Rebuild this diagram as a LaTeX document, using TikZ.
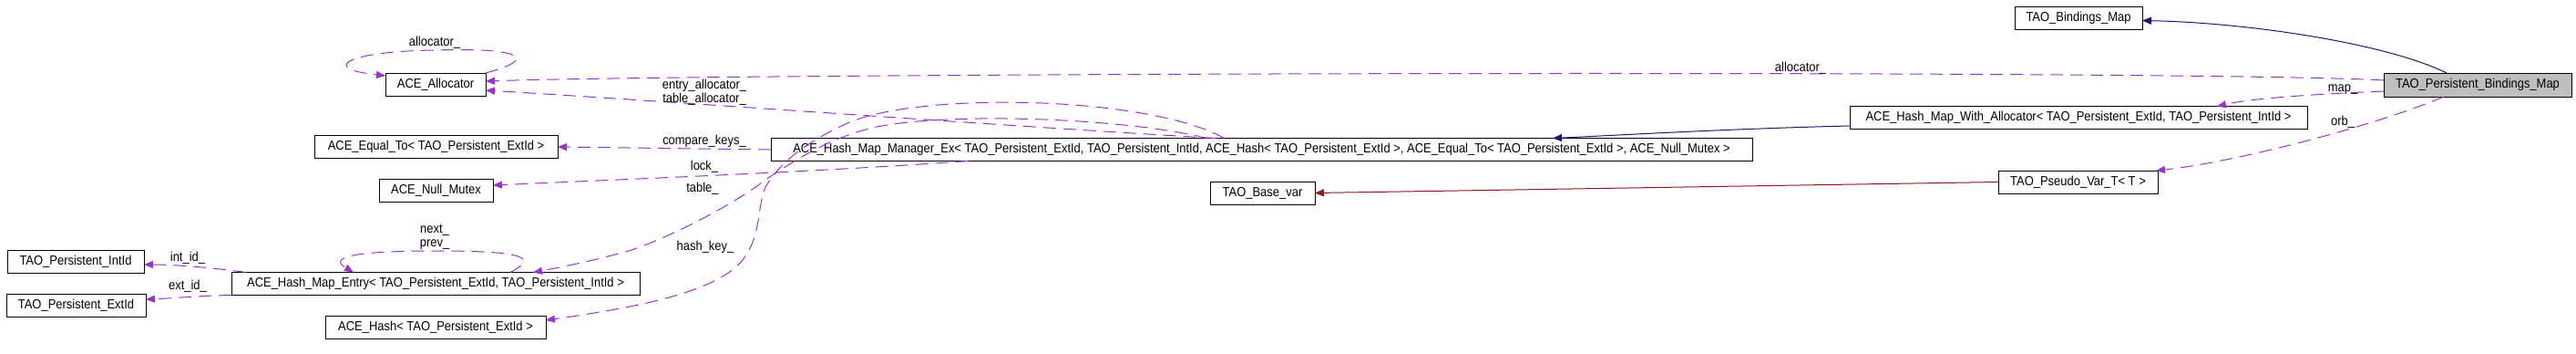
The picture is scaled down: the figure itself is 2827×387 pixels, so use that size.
\documentclass[tikz,border=0pt]{standalone}
\usepackage{fontspec}
\setmainfont{Liberation Sans}[FakeStretch=0.9]
\usetikzlibrary{calc,arrows.meta}

\definecolor{inherit}{HTML}{191970}
\definecolor{privinh}{HTML}{8B1A1A}
\definecolor{usage}{HTML}{9A32CD}
\definecolor{current}{HTML}{BFBFBF}

\tikzset{
  cls/.style={draw, fill=white, line width=0.5pt, minimum height=12.5pt, inner sep=0pt, outer sep=0pt,
    font=\fontsize{7.2}{8}\selectfont},
  lbl/.style={inner sep=0pt, align=center, font=\fontsize{7.2}{7.5}\selectfont},
  pub/.style={draw=inherit, line width=0.5pt, -{Triangle[length=5pt,width=4pt]}},
  priv/.style={draw=privinh, line width=0.5pt, -{Triangle[length=5pt,width=4pt]}},
  uses/.style={draw=usage, line width=0.5pt, dash pattern=on 7pt off 4pt, -{Triangle[length=5pt,width=4pt]}}
}

\begin{document}
\begin{tikzpicture}[x=0.5pt, y=-0.5pt]
    \useasboundingbox (0,0) rectangle (2827,387);

    % classes
    \node[cls, minimum width=70pt] (bind) at (2281,19.5) {TAO\_Bindings\_Map};
    \node[cls, fill=current, minimum width=103pt, minimum height=13pt] (pbm) at (2719,93) {TAO\_Persistent\_Bindings\_Map};
    \node[cls, minimum width=55pt] (alloc) at (478,92.5) {ACE\_Allocator};
    \node[cls, minimum width=133.5pt] (eq) at (478.5,161) {ACE\_Equal\_To< TAO\_Persistent\_ExtId >};
    \node[cls, minimum width=538.5pt] (man) at (1384.5,164) {ACE\_Hash\_Map\_Manager\_Ex< TAO\_Persistent\_ExtId, TAO\_Persistent\_IntId, ACE\_Hash< TAO\_Persistent\_ExtId >, ACE\_Equal\_To< TAO\_Persistent\_ExtId >, ACE\_Null\_Mutex >};
    \node[cls, minimum width=251pt] (hmwa) at (2281,129) {ACE\_Hash\_Map\_With\_Allocator< TAO\_Persistent\_ExtId, TAO\_Persistent\_IntId >};
    \node[cls, minimum width=62.5pt] (nm) at (478.5,209) {ACE\_Null\_Mutex};
    \node[cls, minimum width=57.5pt] (base) at (1385.5,211.5) {TAO\_Base\_var};
    \node[cls, minimum width=87.5pt] (pvar) at (2280.5,199.5) {TAO\_Pseudo\_Var\_T< T >};
    \node[cls, minimum width=75pt] (intid) at (83,287) {TAO\_Persistent\_IntId};
    \node[cls, minimum width=224pt] (entry) at (478,311) {ACE\_Hash\_Map\_Entry< TAO\_Persistent\_ExtId, TAO\_Persistent\_IntId >};
    \node[cls, minimum width=76.5pt] (extid) at (83.5,334.5) {TAO\_Persistent\_ExtId};
    \node[cls, minimum width=121pt] (hsh) at (478,359) {ACE\_Hash< TAO\_Persistent\_ExtId >};

    % inheritance
    \draw[pub] ($(pbm.north)+(-34,0)$) .. controls (2620,48) and (2470,25) .. ($(bind.east)+(0,3)$);
    \draw[pub] ($(hmwa.west)+(0,9)$) .. controls (1900,141) and (1780,148) .. ($(man.north)+(319.5,0)$);
    \draw[priv] (pvar.west) -- (base.east);

    % members
    \draw[uses] ($(pbm.west)+(0,-5)$) .. controls (2400,76) and (800,80) .. ($(alloc.east)+(0,-3.5)$);
    \draw[uses] ($(pbm.west)+(0,7)$) .. controls (2540,103) and (2470,108) .. ($(hmwa.north)+(152,0)$);
    \draw[uses] ($(pbm.south)+(-37,0)$) .. controls (2600,140) and (2450,178) .. ($(pvar.north east)+(-2,0)$);
    \draw[uses] ($(man.north)+(-50,0)$) .. controls (1100,138) and (750,112) .. ($(alloc.east)+(0,6.5)$);
    \draw[uses] (man.west) -- (eq.east);
    \draw[uses] ($(man.south)+(-322,0)$) .. controls (900,188) and (700,196) .. ($(nm.east)+(0,-6)$);
    \draw[uses] ($(man.north)+(-60,0)$) .. controls (1230,128) and (1020,122) .. (950,142)
        .. controls (900,156) and (870,178) .. (843,195) .. controls (800,228) and (730,262) .. (690,275)
        .. controls (650,286) and (615,293) .. ($(entry.north)+(107,0)$);
    \draw[uses] ($(man.north)+(-41,0)$) .. controls (1260,105) and (1010,100) .. (930,135)
        .. controls (880,158) and (855,180) .. (840,205) .. controls (830,230) and (836,258) .. (815,285)
        .. controls (785,322) and (690,338) .. ($(hsh.east)+(0,-8)$);
    \draw[uses] ($(entry.north west)+(16,0)$) .. controls (230,293) and (190,290) .. ($(intid.east)+(0,3)$);
    \draw[uses] (entry.south west) .. controls (220,324) and (190,327) .. ($(extid.east)+(0,-6.5)$);
    \draw[uses] ($(entry.north)+(82,0)$) .. controls (590,283) and (580,275) .. (478,275)
        .. controls (370,275) and (365,285) .. ($(entry.north)+(-90,0)$);
    \draw[uses] (alloc.north east) .. controls (600,62) and (560,52) .. (478,55)
        .. controls (380,56) and (350,75) .. ($(alloc.north west)+(0,3)$);

    % member names
    \node[lbl] (l-alloc) at (477,47) {allocator\_};
    \node[lbl] (l-allocpbm) at (1976,75) {allocator\_};
    \node[lbl] (l-entryalloc) at (773,101.5) {entry\_allocator\_\\table\_allocator\_};
    \node[lbl] (l-cmp) at (773,155) {compare\_keys\_};
    \node[lbl] (l-lock) at (773,183) {lock\_};
    \node[lbl] (l-table) at (771,207) {table\_};
    \node[lbl] (l-hashkey) at (774,271) {hash\_key\_};
    \node[lbl] (l-intid) at (206,283) {int\_id\_};
    \node[lbl] (l-extid) at (206,314) {ext\_id\_};
    \node[lbl] (l-nextprev) at (477,259.5) {next\_\\prev\_};
    \node[lbl] (l-map) at (2571,98) {map\_};
    \node[lbl] (l-orb) at (2571,134) {orb\_};
\end{tikzpicture}
\end{document}
